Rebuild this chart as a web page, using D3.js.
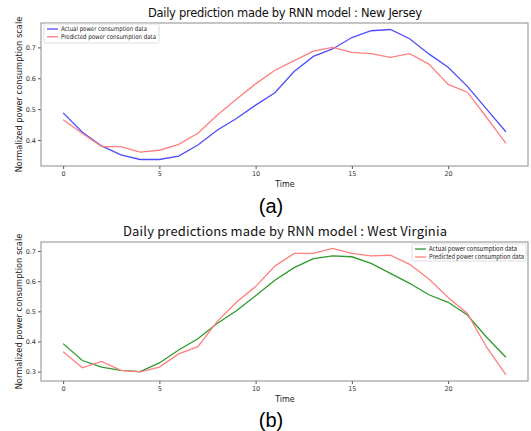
<!DOCTYPE html>
<html>
<head>
<meta charset="utf-8">
<script src="https://cdn.jsdelivr.net/npm/d3@7"></script>
<style>
  body { margin: 0; background: #fff; }
  svg { display: block; }
</style>
</head>
<body>
<svg width="531" height="431"></svg>
<script>
// hours of the day
const hours = d3.range(0, 24);
const xTicks = [0, 5, 10, 15, 20];

// (a) New Jersey
const njActual = [0.488, 0.425, 0.381, 0.352, 0.337, 0.337, 0.348, 0.384, 0.432, 0.470,
  0.513, 0.553, 0.622, 0.671, 0.695, 0.732, 0.754, 0.758, 0.728, 0.679,
  0.636, 0.574, 0.500, 0.427];
const njPredicted = [0.466, 0.421, 0.379, 0.379, 0.361, 0.367, 0.386, 0.422, 0.480, 0.532,
  0.582, 0.626, 0.657, 0.688, 0.700, 0.684, 0.680, 0.668, 0.680, 0.646,
  0.580, 0.555, 0.473, 0.389];
const njTicks = [0.4, 0.5, 0.6, 0.7];

// (b) West Virginia
const wvActual = [0.393, 0.337, 0.315, 0.304, 0.300, 0.329, 0.372, 0.409, 0.460, 0.502,
  0.552, 0.603, 0.645, 0.675, 0.684, 0.681, 0.659, 0.626, 0.593, 0.555,
  0.530, 0.488, 0.414, 0.348];
const wvPredicted = [0.366, 0.313, 0.334, 0.304, 0.299, 0.315, 0.359, 0.383, 0.466, 0.530,
  0.582, 0.650, 0.692, 0.692, 0.709, 0.692, 0.684, 0.686, 0.656, 0.607,
  0.546, 0.493, 0.381, 0.290];
const wvTicks = [0.3, 0.4, 0.5, 0.6, 0.7];

const legendLabels = ["Actual power consumption data", "Predicted power consumption data"];

const svg = d3.select("svg");

function drawPanel(opts)
{
  const g = svg.append("g");
  const allVals = opts.actual.concat(opts.predicted);
  const lo = d3.min(allVals), hi = d3.max(allVals);
  const pad = (hi - lo) * 0.05;

  const x = d3.scaleLinear().domain([-1.15, 24.15]).range([41, 528]);
  const y = d3.scaleLinear().domain([lo - pad, hi + pad]).range([opts.bottom, opts.top]);

  // x axis
  const xAxis = g.append("g")
    .attr("transform", `translate(0, ${opts.bottom})`)
    .call(d3.axisBottom(x).tickValues(xTicks).tickSize(3).tickPadding(2).tickFormat(d3.format("d")));
  // y axis
  const yAxis = g.append("g")
    .attr("transform", `translate(41, 0)`)
    .call(d3.axisLeft(y).tickValues(opts.yTicks).tickSize(3).tickPadding(2).tickFormat(d3.format(".1f")));

  [xAxis, yAxis].forEach((ax) =>
  {
    ax.select(".domain").remove();
    ax.selectAll(".tick line").attr("stroke", "#555");
    ax.selectAll(".tick text")
      .attr("fill", "#333")
      .style("font-family", "DejaVu Sans, sans-serif")
      .style("font-size", "6.5px");
  });

  // frame
  g.append("rect")
    .attr("x", 41)
    .attr("y", opts.top)
    .attr("width", 487)
    .attr("height", opts.bottom - opts.top)
    .attr("fill", "none")
    .attr("stroke", "#8c8c8c")
    .attr("stroke-width", 1);

  const line = d3.line()
    .x((d, i) => x(hours[i]))
    .y((d) => y(d));

  g.append("path")
    .attr("d", line(opts.actual))
    .attr("fill", "none")
    .attr("stroke", opts.actualColor)
    .attr("stroke-width", 1.3);
  g.append("path")
    .attr("d", line(opts.predicted))
    .attr("fill", "none")
    .attr("stroke", "#ff7f7f")
    .attr("stroke-width", 1.3);

  // title
  g.append("text")
    .attr("x", 285)
    .attr("y", opts.top - 6)
    .attr("text-anchor", "middle")
    .attr("textLength", opts.titleWidth)
    .style("font-family", opts.titleFont)
    .style("font-size", opts.titleSize)
    .attr("fill", "#111")
    .text(opts.title);

  // axis labels
  g.append("text")
    .attr("x", 285)
    .attr("y", opts.bottom + 21)
    .attr("text-anchor", "middle")
    .style("font-family", "DejaVu Sans, sans-serif")
    .style("font-size", "8px")
    .attr("fill", "#222")
    .text("Time");
  g.append("text")
    .attr("transform", `translate(22, ${(opts.top + opts.bottom) / 2}) rotate(-90)`)
    .attr("text-anchor", "middle")
    .style("font-family", "DejaVu Sans, sans-serif")
    .style("font-size", "8.3px")
    .attr("fill", "#222")
    .text("Normalized power consumption scale");

  // legend
  const lg = g.append("g");
  lg.append("rect")
    .attr("x", opts.legend.x)
    .attr("y", opts.legend.y)
    .attr("width", opts.legend.w)
    .attr("height", opts.legend.h)
    .attr("rx", 1.5)
    .attr("fill", "#fff")
    .attr("fill-opacity", 0.8)
    .attr("stroke", "#ddd");
  [opts.actualColor, "#ff7f7f"].forEach((c, i) =>
  {
    const yy = opts.legend.y + 5 + i * opts.legend.row;
    lg.append("line")
      .attr("x1", opts.legend.x + 3)
      .attr("x2", opts.legend.x + 14)
      .attr("y1", yy)
      .attr("y2", yy)
      .attr("stroke", c)
      .attr("stroke-width", 1.3);
    lg.append("text")
      .attr("x", opts.legend.x + 17)
      .attr("y", yy + 2.2)
      .attr("textLength", opts.legend.tw[i])
      .attr("lengthAdjust", "spacingAndGlyphs")
      .style("font-family", opts.legendFont)
      .style("font-size", opts.legend.fs)
      .attr("fill", "#222")
      .text(legendLabels[i]);
  });

  // sub caption
  g.append("text")
    .attr("x", 271)
    .attr("y", opts.captionY)
    .attr("text-anchor", "middle")
    .style("font-family", "Liberation Sans, Arial, sans-serif")
    .style("font-size", "20px")
    .attr("fill", "#000")
    .text(opts.caption);
}

drawPanel({
  actual: njActual,
  predicted: njPredicted,
  actualColor: "#4d4dff",
  yTicks: njTicks,
  top: 23,
  bottom: 166,
  title: "Daily prediction made by RNN model : New Jersey",
  titleFont: "DejaVu Sans, sans-serif",
  titleSize: "11.5px",
  titleWidth: 274,
  legendFont: "DejaVu Sans, sans-serif",
  legend: { x: 44, y: 24, w: 115, h: 19, row: 7.7, fs: "6.6px", tw: [86, 95] },
  caption: "(a)",
  captionY: 213
});

drawPanel({
  actual: wvActual,
  predicted: wvPredicted,
  actualColor: "#2e9a2e",
  yTicks: wvTicks,
  top: 242,
  bottom: 381,
  title: "Daily predictions made by RNN model : West Virginia",
  titleFont: "Noto Sans CJK KR, Noto Sans, sans-serif",
  titleSize: "13px",
  titleWidth: 324,
  legendFont: "Noto Sans CJK KR, Noto Sans, sans-serif",
  legend: { x: 412, y: 244, w: 114, h: 17, row: 8, fs: "6.3px", tw: [88, 95] },
  caption: "(b)",
  captionY: 427
});
</script>
</body>
</html>
